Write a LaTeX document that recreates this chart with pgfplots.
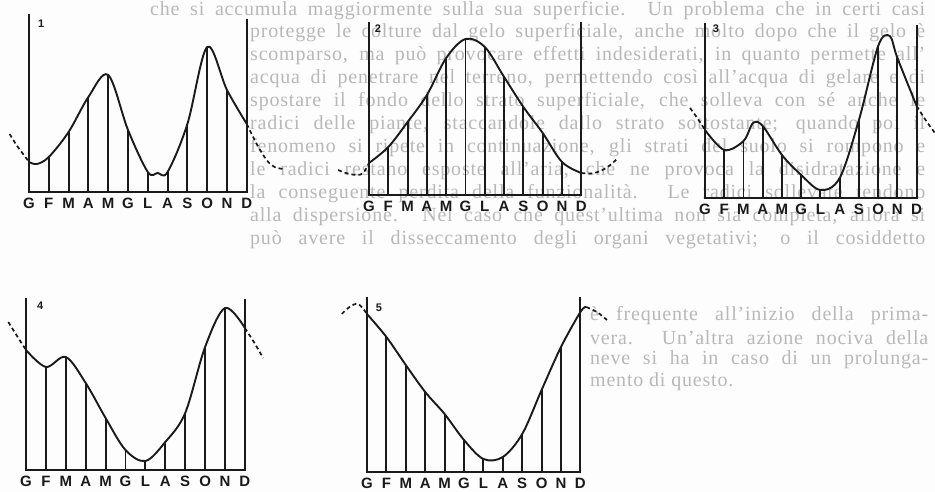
\documentclass[border=0pt]{standalone}
\usepackage{fontspec}
\setmainfont{Liberation Serif}
\newfontfamily\labfont{Liberation Sans}
\usepackage{pgfplots}
\pgfplotsset{compat=1.18}
\definecolor{ink}{HTML}{1A1A1A}
\definecolor{paper}{HTML}{FDFDFD}
\definecolor{bgtext}{HTML}{B8B8B8}

\pgfplotsset{
  regime/.style={
    anchor=origin, y=1pt,
    xmin=0, xmax=11, ymin=0, ymax=170,
    clip=false,
    axis line style={draw=none},
    xtick={0,...,11},
    xticklabels={G,F,M,A,M,G,L,A,S,O,N,D},
    ytick=\empty,
    major tick length=0pt,
    xticklabel style={font=\labfont\bfseries\fontsize{15}{15}\selectfont,
      inner sep=0pt, anchor=north, yshift=-6pt, text=ink},
  },
  frame/.style={ink, line width=2pt, sharp plot, line join=miter},
  comb/.style={ink, line width=1.9pt, ycomb},
  curve/.style={ink, line width=1.9pt, smooth, tension=0.55},
  ext/.style={ink, line width=1.7pt, smooth, tension=0.55, dash pattern=on 4pt off 3pt},
}
\tikzset{num/.style={font=\labfont\bfseries\fontsize{11}{11}\selectfont, text=ink, inner sep=0pt, anchor=north west}}
\newcommand{\row}[4]{\node at (#1,#2) {\makebox[#3pt][s]{#4}};}

\begin{document}
\begin{tikzpicture}[x=1pt, y=1pt]
\fill[paper] (0,0) rectangle (935,492);
\useasboundingbox (0,0) rectangle (935,492);

% faded text of the page behind the figures
\begin{scope}[every node/.style={anchor=west, inner sep=0pt, text=bgtext,
    font=\addfontfeatures{LetterSpace=4}\fontsize{20}{23}\selectfont}]
\row{150}{481}{775}{che si accumula maggiormente sulla sua superficie. Un problema che in certi casi}
\row{250}{459}{675}{protegge le colture dal gelo superficiale, anche molto dopo che il gelo è}
\row{250}{436}{675}{scomparso, ma può provocare effetti indesiderati, in quanto permette all'}
\row{250}{413}{675}{acqua di penetrare nel terreno, permettendo così all'acqua di gelare e di}
\row{250}{390}{675}{spostare il fondo dello strato superficiale, che solleva con sé anche le}
\row{250}{367}{675}{radici delle piante, staccandole dallo strato sottostante; quando poi il}
\row{250}{344}{675}{fenomeno si ripete in continuazione, gli strati del suolo si rompono e}
\row{250}{321}{675}{le radici restano esposte all'aria, che ne provoca la disidratazione e}
\row{250}{298}{675}{la conseguente perdita della funzionalità. Le radici sollevate tendono}
\row{250}{275}{675}{alla dispersione. Nel caso che quest'ultima non sia completa, allora si}
\row{250}{252}{675}{può avere il disseccamento degli organi vegetativi; o il cosiddetto}
\row{590}{176}{338}{è frequente all'inizio della prima-}
\row{590}{154}{338}{vera. Un'altra azione nociva della}
\row{590}{132}{338}{neve si ha in caso di un prolunga-}
\node at (590,110) {mento di questo.};
\end{scope}

% 1
\begin{axis}[regime, x=19.8pt, at={(29pt,300pt)}]
\addplot[frame] coordinates {(0,178) (0,0) (11,0) (11,173)};
\addplot[comb] coordinates {(1,35) (2,60) (3,95) (4,117) (5,62) (6,20) (7,20) (8,68) (9,145) (10,102)};
\addplot[curve] coordinates {(0,30) (0.4,28) (1,35) (2,60) (3,95) (4,117) (5,62) (6,20) (6.5,19) (7,20) (8,68) (9,145) (10,102) (11,68)};
\addplot[ext] coordinates {(-0.98,58) (-0.6,46) (-0.22,36) (0,30)};
\addplot[ext] coordinates {(11,68) (11.5,48) (12,32) (12.4,25) (12.85,23)};
\node[num] at (axis cs:0.45,172) {1};
\end{axis}

% 2
\begin{axis}[regime, x=19.3pt, at={(369pt,297pt)}]
\addplot[frame] coordinates {(0,173) (0,0) (11,0) (11,173)};
\addplot[comb] coordinates {(1,48) (2,73) (3,100) (4,137) (5,156) (6,148) (7,118) (8,88) (9,62) (10,33)};
\addplot[curve] coordinates {(0,32) (1,48) (2,73) (3,100) (4,137) (5,156) (6,148) (7,118) (8,88) (9,62) (10,33) (11,22)};
\addplot[ext] coordinates {(-1.6,25) (-1.2,22) (-0.65,20) (-0.3,22) (0,32)};
\addplot[ext] coordinates {(11,22) (11.5,21.5) (12,24) (12.5,30) (12.9,37)};
\node[num] at (axis cs:0.3,170) {2};
\end{axis}

% 3
\begin{axis}[regime, x=19.24pt, at={(705pt,294pt)}]
\addplot[frame] coordinates {(0,175) (0,0) (11,0) (11,173)};
\addplot[comb] coordinates {(1,48) (2,57) (3,72) (4,43) (5,23) (6,8) (7,20) (8,78) (9,152) (10,140)};
\addplot[curve] coordinates {(0,68) (1,48) (2,57) (2.5,75) (3,72) (4,43) (5,23) (6,8) (7,20) (8,78) (9,152) (9.6,162) (10,140) (11,92)};
\addplot[ext] coordinates {(-0.78,90) (-0.4,80) (0,68)};
\addplot[ext] coordinates {(11,92) (11.5,77) (11.95,65)};
\node[num] at (axis cs:0.4,173) {3};
\end{axis}

% 4
\begin{axis}[regime, x=19.9pt, at={(26pt,22pt)}]
\addplot[frame] coordinates {(0,172) (0,0) (11,0) (11,171)};
\addplot[comb] coordinates {(1,103) (2,113) (3,87) (4,52) (5,20) (6,9) (7,28) (8,57) (9,123) (10,162)};
\addplot[curve] coordinates {(0,120) (1,103) (2,113) (3,87) (4,52) (5,20) (6,9) (7,28) (8,57) (9,123) (10,162) (11,142)};
\addplot[ext] coordinates {(-0.89,148) (-0.45,134) (0,120)};
\addplot[ext] coordinates {(11,142) (11.45,128) (11.92,112)};
\node[num] at (axis cs:0.55,168) {4};
\end{axis}

% 5
\begin{axis}[regime, x=19.4pt, at={(367pt,20pt)}]
\addplot[frame] coordinates {(0,175) (0,0) (11,0) (11,175)};
\addplot[comb] coordinates {(1,135) (2,107) (3,80) (4,58) (5,32) (6,13) (7,15) (8,38) (9,82) (10,125)};
\addplot[curve] coordinates {(0,158) (1,135) (2,107) (3,80) (4,58) (5,32) (6,13) (7,15) (8,38) (9,82) (10,125) (11,160) (11.3,165)};
\addplot[ext] coordinates {(-1.3,158) (-0.9,165) (-0.45,168) (0,158)};
\addplot[ext] coordinates {(11.3,165) (11.85,160) (12.37,152)};
\node[num] at (axis cs:0.45,168) {5};
\end{axis}
\end{tikzpicture}
\end{document}
